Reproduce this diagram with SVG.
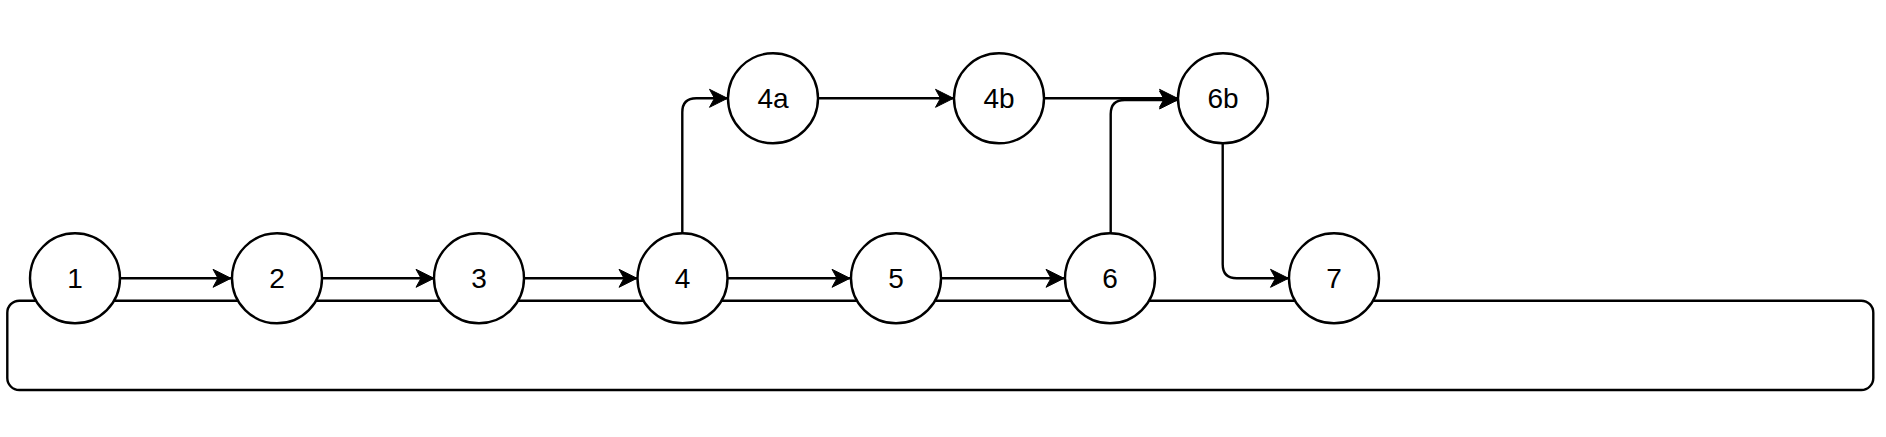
<svg xmlns="http://www.w3.org/2000/svg" width="1886" height="437" viewBox="0 0 1886 437">
<style>
.n circle{fill:#fff;stroke:#000;stroke-width:2.4}
.n text{font-family:"Liberation Sans",Arial,sans-serif;font-size:28px;fill:#000;text-anchor:middle;dominant-baseline:central}
.e{fill:none;stroke:#000;stroke-width:2.4}
</style>
<defs>
<marker id="a" markerUnits="userSpaceOnUse" viewBox="-20 -10 22 20" refX="0" refY="0" markerWidth="22" markerHeight="20" orient="auto">
<path d="M0,0 L-18,-9 L-13,0 L-18,9 Z" fill="#000" stroke="#000" stroke-width="1"/>
</marker>
</defs>
<g id="connectors">
<rect class="e" x="7.3" y="300.7" width="1866" height="89.3" rx="12"/>
<path class="e" d="M120,278.3 H231" marker-end="url(#a)"/>
<path class="e" d="M322,278.3 H434" marker-end="url(#a)"/>
<path class="e" d="M524,278.3 H637" marker-end="url(#a)"/>
<path class="e" d="M728,278.3 H850" marker-end="url(#a)"/>
<path class="e" d="M941,278.3 H1064" marker-end="url(#a)"/>
<path class="e" d="M682.3,233.3 V112.3 Q682.3,98.3 696.3,98.3 H727.5" marker-end="url(#a)"/>
<path class="e" d="M818,98.3 H953.5" marker-end="url(#a)"/>
<path class="e" d="M1044,98.3 H1177.5" marker-end="url(#a)"/>
<path class="e" d="M1110.7,233.3 V114 Q1110.7,100 1124.7,100 H1177.5" marker-end="url(#a)"/>
<path class="e" d="M1222.7,143.3 V264.3 Q1222.7,278.3 1236.7,278.3 H1288.5" marker-end="url(#a)"/>
</g>
<g id="n1" class="n"><circle cx="75" cy="278.3" r="45"/><text x="75" y="278.3">1</text></g>
<g id="n2" class="n"><circle cx="277" cy="278.3" r="45"/><text x="277" y="278.3">2</text></g>
<g id="n3" class="n"><circle cx="479" cy="278.3" r="45"/><text x="479" y="278.3">3</text></g>
<g id="n4" class="n"><circle cx="682.5" cy="278.3" r="45"/><text x="682.5" y="278.3">4</text></g>
<g id="n5" class="n"><circle cx="896" cy="278.3" r="45"/><text x="896" y="278.3">5</text></g>
<g id="n6" class="n"><circle cx="1110" cy="278.3" r="45"/><text x="1110" y="278.3">6</text></g>
<g id="n7" class="n"><circle cx="1334" cy="278.3" r="45"/><text x="1334" y="278.3">7</text></g>
<g id="n4a" class="n"><circle cx="773" cy="98.3" r="45"/><text x="773" y="98.3">4a</text></g>
<g id="n4b" class="n"><circle cx="999" cy="98.3" r="45"/><text x="999" y="98.3">4b</text></g>
<g id="n6b" class="n"><circle cx="1223" cy="98.3" r="45"/><text x="1223" y="98.3">6b</text></g>
</svg>
